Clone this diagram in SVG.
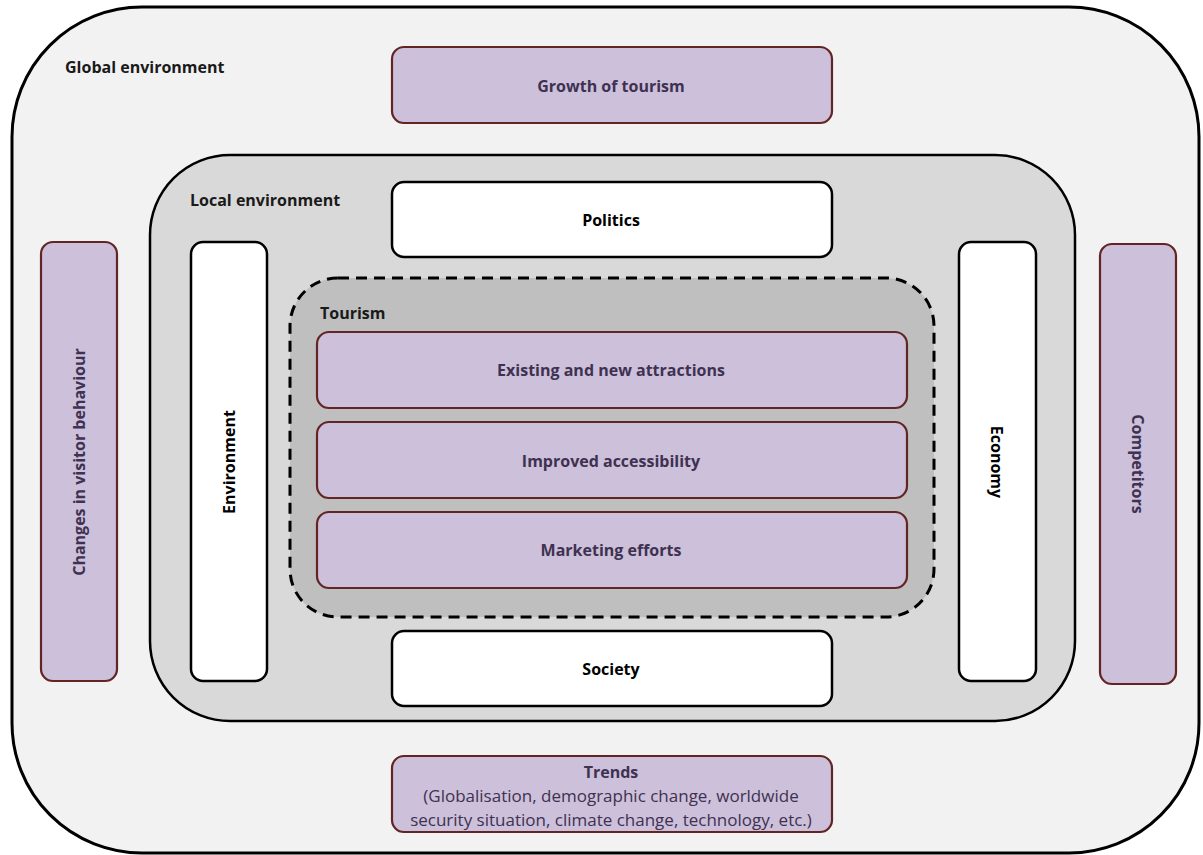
<svg xmlns="http://www.w3.org/2000/svg" width="1203" height="855" viewBox="0 0 1203 855">
<style>
text{font-family:"Open Sans","Liberation Sans",sans-serif;}
.lbl{font-size:16px;font-weight:bold;fill:#1a1a1a;}
.p{fill:#ccc0da;stroke:#632523;stroke-width:2.2;}
.w{fill:#ffffff;stroke:#000;stroke-width:2.5;}
.pt{font-size:16px;font-weight:bold;fill:#3f3151;text-anchor:middle;dominant-baseline:central;}
.wt{font-size:16px;font-weight:bold;fill:#000;text-anchor:middle;dominant-baseline:central;}
.tr{font-size:17px;fill:#3f3151;text-anchor:middle;}
.trh{font-size:16px;font-weight:bold;fill:#3f3151;text-anchor:middle;}
</style>
<rect width="1203" height="855" fill="#ffffff"/>
<g id="global">
<rect x="12" y="7" width="1187" height="846" rx="130" fill="#f2f2f2" stroke="#000" stroke-width="3"/>
<text class="lbl" x="65" y="73">Global environment</text>
</g>
<g id="local">
<rect x="150" y="155" width="925" height="566" rx="80" fill="#d9d9d9" stroke="#000" stroke-width="2.5"/>
<text class="lbl" x="190" y="206">Local environment</text>
</g>
<g id="tourism">
<rect x="290" y="278" width="644" height="339" rx="48" fill="#bfbfbf" stroke="#000" stroke-width="3" stroke-dasharray="11,7"/>
<text class="lbl" x="320" y="319">Tourism</text>
</g>
<g id="growth"><rect class="p" x="392" y="47" width="440" height="76" rx="12"/><text class="pt" x="611" y="86">Growth of tourism</text></g>
<g id="politics"><rect class="w" x="392" y="182" width="440" height="75" rx="12"/><text class="wt" x="611" y="220">Politics</text></g>
<g id="society"><rect class="w" x="392" y="631" width="440" height="75" rx="12"/><text class="wt" x="611" y="669">Society</text></g>
<g id="trends"><rect class="p" x="392" y="756" width="440" height="76" rx="12"/>
<text class="trh" x="611" y="778">Trends</text>
<text class="tr" x="611" y="802">(Globalisation, demographic change, worldwide</text>
<text class="tr" x="611" y="826">security situation, climate change, technology, etc.)</text></g>
<g id="attractions"><rect class="p" x="317" y="332" width="590" height="76" rx="12"/><text class="pt" x="611" y="370">Existing and new attractions</text></g>
<g id="accessibility"><rect class="p" x="317" y="422" width="590" height="76" rx="12"/><text class="pt" x="611" y="461">Improved accessibility</text></g>
<g id="marketing"><rect class="p" x="317" y="512" width="590" height="76" rx="12"/><text class="pt" x="611" y="550">Marketing efforts</text></g>
<g id="visitor"><rect class="p" x="41" y="242" width="76" height="439" rx="12"/><text class="pt" transform="translate(79,462) rotate(-90)">Changes in visitor behaviour</text></g>
<g id="environment"><rect class="w" x="191" y="242" width="76" height="439" rx="12"/><text class="wt" transform="translate(229,462) rotate(-90)">Environment</text></g>
<g id="economy"><rect class="w" x="959" y="242" width="77" height="439" rx="12"/><text class="wt" transform="translate(997,462) rotate(90)">Economy</text></g>
<g id="competitors"><rect class="p" x="1100" y="244" width="76" height="440" rx="12"/><text class="pt" transform="translate(1138,464) rotate(90)">Competitors</text></g>
<g id="connectors"></g>
</svg>
